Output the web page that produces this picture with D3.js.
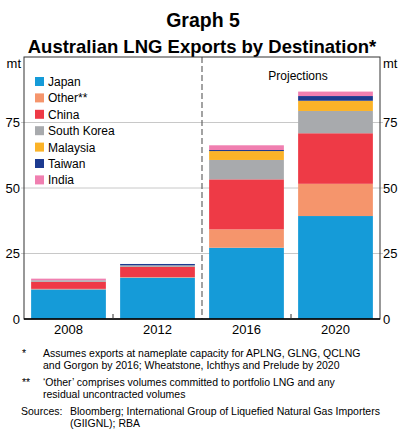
<!DOCTYPE html>
<html>
<head>
<meta charset="utf-8">
<script src="https://cdn.jsdelivr.net/npm/d3@7"></script>
<style>
  body { margin: 0; background: #fff; }
  svg { font-family: Arial, "Liberation Sans", sans-serif; }
</style>
</head>
<body>
<div id="chart"></div>
<script>
// chart data (million tonnes)
var years = ["2008", "2012", "2016", "2020"];
var series = ["Japan", "Other**", "China", "South Korea", "Malaysia", "Taiwan", "India"];
var japan      = [11.3, 15.8, 27.2, 39.3];
var other      = [0.2, 0.2, 7.0, 12.3];
var china      = [2.7, 3.9, 19.1, 19.3];
var southKorea = [0.6, 0.6, 7.4, 8.5];
var malaysia   = [0, 0, 3.4, 3.9];
var taiwan     = [0, 0.5, 0.4, 1.8];
var india      = [0.6, 0, 1.8, 1.7];
var yTicks = [0, 25, 50, 75];
var colors = ["#159bd8", "#f5956c", "#ee3a46", "#a8aaad", "#fbb328", "#1c3a90", "#f07fb0"];

var footnotes = [
    ["*", "Assumes exports at nameplate capacity for APLNG, GLNG, QCLNG", "and Gorgon by 2016; Wheatstone, Ichthys and Prelude by 2020"],
    ["**", "\u2018Other\u2019 comprises volumes committed to portfolio LNG and any", "residual uncontracted volumes"]
];

var W = 420, H = 438;
var pLeft = 24, pRight = 380, pTop = 57, pBottom = 319;

var svg = d3.select("#chart").append("svg")
    .attr("width", W)
    .attr("height", H);

// titles
svg.append("text").attr("x", 203).attr("y", 27)
    .attr("text-anchor", "middle").attr("font-weight", "bold").attr("font-size", 19.5)
    .text("Graph 5");
svg.append("text").attr("x", 202).attr("y", 53)
    .attr("text-anchor", "middle").attr("font-weight", "bold").attr("font-size", 18.5)
    .text("Australian LNG Exports by Destination*");

var x = d3.scaleBand().domain(years).range([pLeft, pRight]).paddingInner(0.16).paddingOuter(0.08);
var y = d3.scaleLinear().domain([0, 100]).range([pBottom, pTop]);

// table for the stack
var vals = [japan, other, china, southKorea, malaysia, taiwan, india];
var table = years.map(function (yr, i) {
    var row = { year: yr };
    series.forEach(function (s, j) { row[s] = vals[j][i]; });
    return row;
});
var stacked = d3.stack().keys(series)(table);

// gridlines
svg.append("g").selectAll("line")
    .data(yTicks.filter(function (d) { return d > 0; }))
    .enter().append("line")
    .attr("x1", pLeft - 3).attr("x2", pRight + 3)
    .attr("y1", function (d) { return y(d); })
    .attr("y2", function (d) { return y(d); })
    .attr("stroke", "#c8c8c8").attr("stroke-width", 1);

// bars
svg.append("g").selectAll("g")
    .data(stacked)
    .enter().append("g")
    .attr("fill", function (d, i) { return colors[i]; })
    .selectAll("rect")
    .data(function (d) { return d; })
    .enter().append("rect")
    .attr("x", function (d) { return x(d.data.year); })
    .attr("width", x.bandwidth())
    .attr("y", function (d) { return y(d[1]); })
    .attr("height", function (d) { return y(d[0]) - y(d[1]); });

// dashed divider between actual and projections
var step = x.step();
var gap = (step - x.bandwidth()) / 2;
var midX = x("2016") - gap;
svg.append("line")
    .attr("x1", midX).attr("x2", midX)
    .attr("y1", pTop).attr("y2", pBottom)
    .attr("stroke", "#666").attr("stroke-width", 1.2)
    .attr("stroke-dasharray", "6,3");

// frame
svg.append("rect")
    .attr("x", pLeft).attr("y", pTop)
    .attr("width", pRight - pLeft).attr("height", pBottom - pTop)
    .attr("fill", "none").attr("stroke", "#333").attr("stroke-width", 1);
svg.append("line")
    .attr("x1", pLeft).attr("x2", pRight)
    .attr("y1", pBottom).attr("y2", pBottom)
    .attr("stroke", "#000").attr("stroke-width", 1.3);

// small category ticks
svg.append("g").selectAll("line")
    .data(["2012", "2020"])
    .enter().append("line")
    .attr("x1", function (d) { return x(d) - gap; })
    .attr("x2", function (d) { return x(d) - gap; })
    .attr("y1", pBottom).attr("y2", pBottom - 5)
    .attr("stroke", "#333").attr("stroke-width", 1);

// y axes both sides
var yl = svg.append("g").attr("transform", "translate(" + pLeft + ",0)")
    .call(d3.axisLeft(y).tickValues(yTicks).tickSize(0).tickPadding(4));
var yr = svg.append("g").attr("transform", "translate(" + pRight + ",0)")
    .call(d3.axisRight(y).tickValues(yTicks).tickSize(0).tickPadding(3));
[yl, yr].forEach(function (g) {
    g.select(".domain").remove();
    g.selectAll("text").attr("font-size", 13).attr("fill", "#000")
        .style("font-family", "Arial, 'Liberation Sans', sans-serif");
});

svg.append("text").attr("x", 21).attr("y", 68).attr("text-anchor", "end")
    .attr("font-size", 13).text("mt");
svg.append("text").attr("x", 383).attr("y", 68)
    .attr("font-size", 13).text("mt");

// x labels
var xa = svg.append("g").attr("transform", "translate(0," + pBottom + ")")
    .call(d3.axisBottom(x).tickSize(0).tickPadding(6));
xa.select(".domain").remove();
xa.selectAll("text").attr("font-size", 13).attr("fill", "#000")
    .style("font-family", "Arial, 'Liberation Sans', sans-serif");

svg.append("text").attr("x", 298).attr("y", 80).attr("text-anchor", "middle")
    .attr("font-size", 12).text("Projections");

// legend
var lg = svg.append("g").selectAll("g")
    .data(series)
    .enter().append("g")
    .attr("transform", function (d, i) { return "translate(35," + (77 + i * 16.4) + ")"; });
lg.append("rect").attr("width", 9).attr("height", 9)
    .attr("fill", function (d, i) { return colors[i]; });
lg.append("text").attr("x", 13).attr("y", 9).attr("font-size", 12)
    .text(function (d) { return d; });

// footnotes
var fy = [357, 386];
footnotes.forEach(function (f, i) {
    svg.append("text").attr("x", 22).attr("y", fy[i]).attr("font-size", 10.5).text(f[0]);
    svg.append("text").attr("x", 43).attr("y", fy[i]).attr("font-size", 10.5).text(f[1]);
    svg.append("text").attr("x", 43).attr("y", fy[i] + 12).attr("font-size", 10.5).text(f[2]);
});
svg.append("text").attr("x", 21).attr("y", 415).attr("font-size", 10.5).text("Sources:");
svg.append("text").attr("x", 70).attr("y", 415).attr("font-size", 10.5)
    .text("Bloomberg; International Group of Liquefied Natural Gas Importers");
svg.append("text").attr("x", 70).attr("y", 427).attr("font-size", 10.5)
    .text("(GIIGNL); RBA");
</script>
</body>
</html>
